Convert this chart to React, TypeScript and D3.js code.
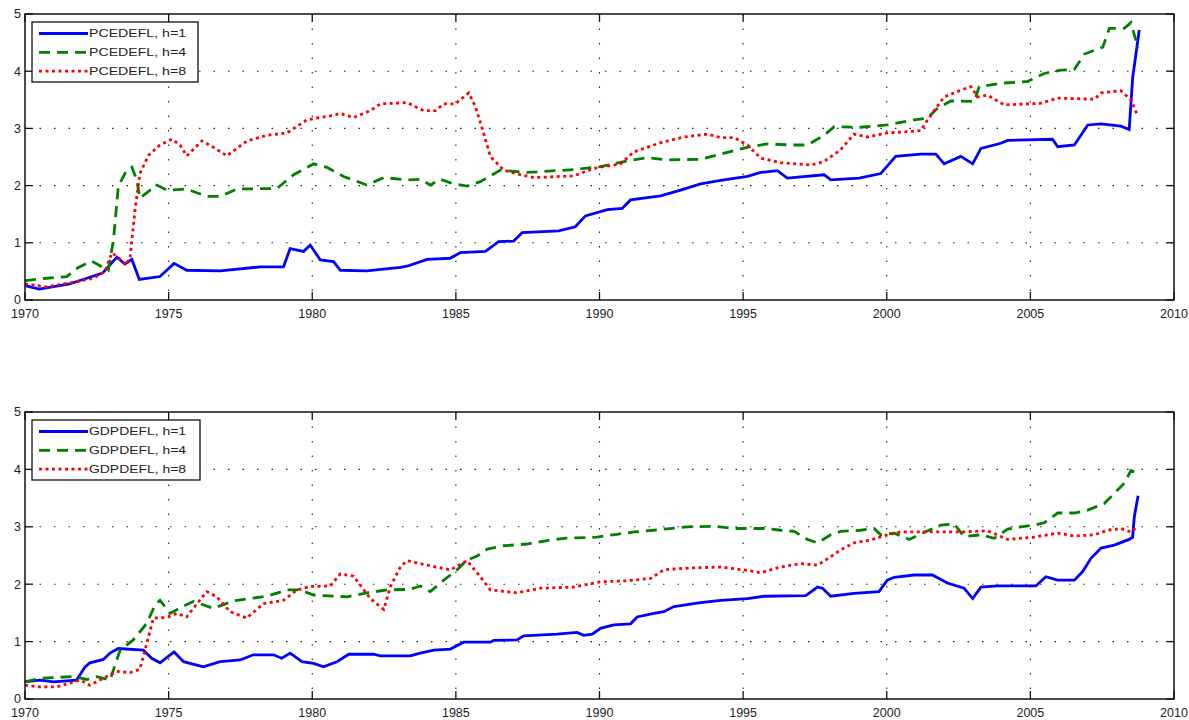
import React from "react";
import * as d3 from "d3";

type Pt = [number, number];

const xTicks = [1970, 1975, 1980, 1985, 1990, 1995, 2000, 2005, 2010];
const yTicks = [0, 1, 2, 3, 4, 5];
const pceLabels = ["PCEDEFL, h=1", "PCEDEFL, h=4", "PCEDEFL, h=8"];
const gdpLabels = ["GDPDEFL, h=1", "GDPDEFL, h=4", "GDPDEFL, h=8"];

// values: [year, value]
const pceH1: Pt[] = [
  [1970, 0.25], [1970.5, 0.19], [1971.55, 0.28], [1972.7, 0.47], [1973.2, 0.75], [1973.48, 0.63],
  [1973.72, 0.71], [1973.98, 0.36], [1974.7, 0.41], [1975.19, 0.64], [1975.63, 0.52], [1976.8, 0.51],
  [1978.2, 0.58], [1979.0, 0.58], [1979.23, 0.9], [1979.7, 0.85], [1979.93, 0.96], [1980.28, 0.7],
  [1980.74, 0.67], [1980.98, 0.52], [1981.9, 0.51], [1983.07, 0.57], [1983.3, 0.59], [1984.0, 0.71],
  [1984.8, 0.73], [1985.16, 0.83], [1986.03, 0.85], [1986.49, 1.02], [1987.01, 1.03], [1987.31, 1.18],
  [1988.58, 1.21], [1989.16, 1.28], [1989.51, 1.47], [1990.27, 1.58], [1990.79, 1.6], [1991.08, 1.75],
  [1992.13, 1.82], [1992.82, 1.92], [1993.52, 2.03], [1994.22, 2.09], [1995.15, 2.16], [1995.61, 2.23],
  [1996.19, 2.26], [1996.54, 2.13], [1997.82, 2.19], [1998.05, 2.1], [1999.04, 2.13], [1999.79, 2.21],
  [2000.31, 2.51], [2001.18, 2.55], [2001.71, 2.55], [2002.0, 2.38], [2002.58, 2.51], [2002.99, 2.38],
  [2003.28, 2.65], [2003.97, 2.74], [2004.21, 2.79], [2005.77, 2.81], [2005.95, 2.68], [2006.53, 2.71],
  [2007.0, 3.06], [2007.46, 3.08], [2008.15, 3.04], [2008.44, 2.98], [2008.56, 3.88], [2008.79, 4.72],
];

const pceH4: Pt[] = [
  [1970, 0.34], [1970.75, 0.38], [1971.45, 0.41], [1971.86, 0.57], [1972.32, 0.68], [1972.9, 0.52],
  [1973.08, 1.05], [1973.25, 1.99], [1973.54, 2.27], [1973.72, 2.32], [1973.89, 2.1], [1974.0, 1.78],
  [1974.59, 2.01], [1974.94, 1.92], [1975.63, 1.94], [1976.33, 1.81], [1976.79, 1.81], [1977.38, 1.94],
  [1978.77, 1.95], [1979.35, 2.19], [1980.05, 2.38], [1980.51, 2.32], [1981.09, 2.16], [1981.9, 2.01],
  [1982.49, 2.14], [1983.3, 2.1], [1983.76, 2.11], [1984.11, 2.01], [1984.46, 2.11], [1984.92, 2.03],
  [1985.39, 1.99], [1985.85, 2.07], [1986.55, 2.27], [1987.48, 2.23], [1989.1, 2.28], [1990.03, 2.33],
  [1990.85, 2.42], [1991.66, 2.49], [1992.36, 2.45], [1993.52, 2.46], [1994.22, 2.55], [1995.15, 2.67],
  [1995.84, 2.73], [1996.66, 2.71], [1997.24, 2.71], [1997.82, 2.88], [1998.17, 3.03], [1999.09, 3.02],
  [2000.02, 3.06], [2000.95, 3.15], [2001.42, 3.18], [2001.76, 3.35], [2002.23, 3.48], [2003.04, 3.47],
  [2003.22, 3.73], [2003.97, 3.79], [2004.9, 3.82], [2005.48, 3.96], [2006.06, 4.02], [2006.53, 4.03],
  [2006.88, 4.3], [2007.52, 4.42], [2007.75, 4.75], [2008.27, 4.75], [2008.5, 4.85], [2008.75, 4.4],
];

const pceH8: Pt[] = [
  [1970, 0.28], [1970.75, 0.23], [1971.57, 0.3], [1972.38, 0.38], [1972.79, 0.5], [1973.02, 0.82],
  [1973.19, 0.77], [1973.52, 0.61], [1973.66, 0.76], [1973.83, 1.57], [1974.0, 2.21], [1974.3, 2.53],
  [1974.7, 2.71], [1975.11, 2.81], [1975.4, 2.71], [1975.63, 2.52], [1976.16, 2.78], [1976.56, 2.67],
  [1977.03, 2.52], [1977.72, 2.78], [1978.42, 2.88], [1979.12, 2.92], [1979.81, 3.15], [1980.63, 3.22],
  [1980.98, 3.26], [1981.44, 3.19], [1982.02, 3.31], [1982.37, 3.43], [1983.3, 3.45], [1983.88, 3.31],
  [1984.29, 3.31], [1984.58, 3.43], [1984.98, 3.43], [1985.45, 3.62], [1985.68, 3.38], [1985.97, 2.91],
  [1986.2, 2.51], [1986.67, 2.27], [1987.25, 2.19], [1987.71, 2.14], [1989.1, 2.17], [1989.8, 2.3],
  [1990.73, 2.38], [1991.2, 2.59], [1992.13, 2.75], [1992.94, 2.85], [1993.75, 2.9], [1994.22, 2.84],
  [1994.68, 2.84], [1995.15, 2.71], [1995.61, 2.48], [1996.31, 2.4], [1997.35, 2.36], [1997.82, 2.42],
  [1998.4, 2.63], [1998.86, 2.9], [1999.33, 2.85], [2000.02, 2.92], [2001.18, 2.96], [2001.42, 3.15],
  [2002.0, 3.55], [2002.64, 3.68], [2002.93, 3.73], [2003.16, 3.55], [2003.51, 3.58], [2004.09, 3.41],
  [2005.37, 3.44], [2005.95, 3.53], [2007.23, 3.51], [2007.46, 3.62], [2008.15, 3.66], [2008.5, 3.5],
  [2008.71, 3.25],
];

const gdpH1: Pt[] = [
  [1970, 0.3], [1970.52, 0.33], [1970.99, 0.3], [1971.8, 0.33], [1972.09, 0.56], [1972.26, 0.63],
  [1972.73, 0.69], [1972.96, 0.8], [1973.25, 0.88], [1974.12, 0.85], [1974.41, 0.71], [1974.7, 0.63],
  [1975.19, 0.82], [1975.52, 0.65], [1976.21, 0.56], [1976.79, 0.65], [1977.49, 0.68], [1977.95, 0.77],
  [1978.65, 0.77], [1978.94, 0.71], [1979.23, 0.8], [1979.64, 0.65], [1980.05, 0.62], [1980.39, 0.56],
  [1980.86, 0.65], [1981.27, 0.78], [1982.14, 0.78], [1982.37, 0.75], [1983.41, 0.75], [1983.76, 0.8],
  [1984.23, 0.85], [1984.81, 0.87], [1985.27, 0.99], [1986.2, 0.99], [1986.32, 1.02], [1987.13, 1.03],
  [1987.36, 1.1], [1988.52, 1.13], [1989.22, 1.16], [1989.45, 1.11], [1989.75, 1.13], [1990.03, 1.23],
  [1990.5, 1.29], [1991.08, 1.31], [1991.31, 1.43], [1991.89, 1.49], [1992.24, 1.52], [1992.59, 1.61],
  [1993.52, 1.68], [1994.22, 1.72], [1995.15, 1.75], [1995.73, 1.79], [1997.18, 1.8], [1997.59, 1.95],
  [1997.76, 1.93], [1998.05, 1.79], [1998.86, 1.84], [1999.73, 1.87], [2000.02, 2.07], [2000.26, 2.12],
  [2000.95, 2.16], [2001.59, 2.16], [2002.11, 2.02], [2002.69, 1.93], [2002.99, 1.75], [2003.28, 1.95],
  [2003.86, 1.97], [2005.19, 1.97], [2005.54, 2.13], [2005.95, 2.07], [2006.53, 2.07], [2006.82, 2.22],
  [2007.11, 2.45], [2007.46, 2.63], [2007.92, 2.68], [2008.44, 2.78], [2008.56, 2.82], [2008.62, 3.18],
  [2008.75, 3.54],
];

const gdpH4: Pt[] = [
  [1970, 0.3], [1970.52, 0.36], [1971.68, 0.39], [1972.15, 0.34], [1972.5, 0.39], [1972.96, 0.33],
  [1973.31, 0.85], [1973.77, 1.03], [1974.24, 1.32], [1974.53, 1.64], [1974.7, 1.72], [1975.05, 1.49],
  [1975.52, 1.62], [1975.86, 1.7], [1976.56, 1.58], [1977.26, 1.71], [1978.42, 1.79], [1979.12, 1.9],
  [1979.58, 1.9], [1980.05, 1.81], [1981.21, 1.78], [1981.9, 1.85], [1982.6, 1.9], [1983.41, 1.91],
  [1983.76, 1.97], [1984.11, 1.87], [1984.58, 2.07], [1985.04, 2.25], [1985.39, 2.42], [1985.74, 2.49],
  [1986.09, 2.61], [1986.67, 2.67], [1987.48, 2.7], [1988.17, 2.76], [1988.75, 2.8], [1989.91, 2.82],
  [1990.61, 2.87], [1991.2, 2.91], [1991.89, 2.94], [1993.05, 3.0], [1993.98, 3.01], [1994.68, 2.97],
  [1995.84, 2.97], [1996.31, 2.94], [1996.78, 2.92], [1997.24, 2.78], [1997.59, 2.72], [1998.05, 2.86],
  [1998.4, 2.92], [1999.09, 2.94], [1999.56, 2.97], [1999.79, 2.86], [2000.26, 2.89], [2000.78, 2.78],
  [2001.3, 2.9], [2001.88, 3.03], [2002.35, 3.05], [2002.69, 2.83], [2003.28, 2.86], [2003.74, 2.8],
  [2004.21, 2.96], [2004.67, 3.0], [2005.14, 3.03], [2005.48, 3.07], [2005.95, 3.24], [2006.53, 3.24],
  [2007.0, 3.29], [2007.58, 3.41], [2007.92, 3.58], [2008.27, 3.76], [2008.5, 3.98], [2008.73, 3.94],
];

const gdpH8: Pt[] = [
  [1970, 0.24], [1970.52, 0.21], [1971.1, 0.21], [1971.92, 0.33], [1972.26, 0.24], [1972.61, 0.33],
  [1973.19, 0.48], [1973.66, 0.46], [1974.0, 0.52], [1974.24, 0.97], [1974.47, 1.41], [1974.94, 1.42],
  [1975.28, 1.49], [1975.63, 1.43], [1975.86, 1.58], [1976.33, 1.87], [1976.68, 1.78], [1977.14, 1.52],
  [1977.72, 1.41], [1978.3, 1.66], [1979.0, 1.72], [1979.47, 1.9], [1979.93, 1.96], [1980.63, 1.97],
  [1980.98, 2.18], [1981.44, 2.14], [1982.02, 1.75], [1982.49, 1.56], [1982.72, 1.96], [1983.07, 2.3],
  [1983.3, 2.41], [1984.11, 2.32], [1984.81, 2.25], [1985.39, 2.41], [1985.85, 2.13], [1986.2, 1.9],
  [1987.13, 1.85], [1987.94, 1.93], [1989.1, 1.95], [1990.03, 2.04], [1990.96, 2.06], [1991.78, 2.1],
  [1992.24, 2.25], [1993.05, 2.28], [1994.22, 2.3], [1995.15, 2.24], [1995.61, 2.2], [1996.31, 2.3],
  [1997.0, 2.36], [1997.59, 2.33], [1998.05, 2.48], [1998.4, 2.6], [1998.86, 2.72], [1999.44, 2.77],
  [2000.02, 2.86], [2000.49, 2.91], [2002.58, 2.91], [2003.51, 2.93], [2004.21, 2.78], [2005.14, 2.82],
  [2005.95, 2.89], [2006.53, 2.84], [2007.23, 2.86], [2007.69, 2.94], [2008.15, 2.97], [2008.5, 2.91],
  [2008.73, 3.0],
];

const lineStyles = [
  { color: "#0000ff", dash: undefined as string | undefined },
  { color: "#008000", dash: "11 7" },
  { color: "#ff0000", dash: "3 3.5" },
];

const FONT = "'Liberation Sans', Arial, sans-serif";

type PanelProps = {
  top: number;
  bottom: number;
  series: Pt[][];
  labels: string[];
  legendW: number;
};

function Panel({ top, bottom, series, labels, legendW }: PanelProps) {
  const x = d3.scaleLinear().domain([1970, 2010]).range([25, 1174]);
  const y = d3.scaleLinear().domain([0, 5]).range([bottom, top]);
  const line = d3
    .line<Pt>()
    .x((d) => x(d[0]))
    .y((d) => y(d[1]));
  const [x0, x1] = x.range();
  const tick = 8;
  const lgX = x0 + 7;
  const lgY = top + 8;

  return (
    <g>
      {/* dotted grid */}
      {xTicks.slice(1, -1).map((t) => (
        <line key={"gx" + t} x1={x(t)} x2={x(t)} y1={top} y2={bottom}
          stroke="#222" strokeWidth={1.1} strokeDasharray="1.5 13" />
      ))}
      {yTicks.slice(1, -1).map((t) => (
        <line key={"gy" + t} x1={x0} x2={x1} y1={y(t)} y2={y(t)}
          stroke="#222" strokeWidth={1.1} strokeDasharray="1.5 13" />
      ))}

      {series.map((s, i) => (
        <path key={"s" + i} d={line(s) ?? ""} fill="none"
          stroke={lineStyles[i].color} strokeWidth={2.8}
          strokeDasharray={lineStyles[i].dash} />
      ))}

      {/* ticks, inside on all sides */}
      {xTicks.map((t) => (
        <g key={"tx" + t}>
          <line x1={x(t)} x2={x(t)} y1={bottom} y2={bottom - tick} stroke="#111" strokeWidth={1.3} />
          <line x1={x(t)} x2={x(t)} y1={top} y2={top + tick} stroke="#111" strokeWidth={1.3} />
          <text x={x(t)} y={bottom + 18} textAnchor="middle" fontFamily={FONT} fontSize={12.5} fill="#222">
            {t}
          </text>
        </g>
      ))}
      {yTicks.map((t) => (
        <g key={"ty" + t}>
          <line x1={x0} x2={x0 + tick} y1={y(t)} y2={y(t)} stroke="#111" strokeWidth={1.3} />
          <line x1={x1} x2={x1 - tick} y1={y(t)} y2={y(t)} stroke="#111" strokeWidth={1.3} />
          <text x={x0 - 4} y={y(t)} dy="0.35em" textAnchor="end" fontFamily={FONT} fontSize={12.5} fill="#222">
            {t}
          </text>
        </g>
      ))}

      {/* legend */}
      <rect x={lgX} y={lgY} width={legendW} height={60} fill="#fff" stroke="#111" strokeWidth={1.3} />
      {labels.map((lab, i) => {
        const ly = lgY + 11.5 + i * 18.8;
        return (
          <g key={"lg" + i}>
            <line x1={lgX + 7} x2={lgX + 56} y1={ly} y2={ly}
              stroke={lineStyles[i].color} strokeWidth={2.8}
              strokeDasharray={lineStyles[i].dash} />
            <text x={lgX + 57} y={ly} dy="0.36em" fontFamily={FONT} fontSize={11}
              textLength={97} lengthAdjust="spacingAndGlyphs" fill="#222">
              {lab}
            </text>
          </g>
        );
      })}

      <rect x={x0} y={top} width={x1 - x0} height={bottom - top} fill="none" stroke="#111" strokeWidth={1.5} />
    </g>
  );
}

export default function App() {
  return (
    <svg width={1189} height={720} style={{ position: "absolute", left: 0, top: 0, background: "#fff" }}>
      <rect width={1189} height={720} fill="#fff" />
      <Panel top={14} bottom={300} series={[pceH1, pceH4, pceH8]} labels={pceLabels} legendW={166} />
      <Panel top={412} bottom={699} series={[gdpH1, gdpH4, gdpH8]} labels={gdpLabels} legendW={168} />
    </svg>
  );
}
